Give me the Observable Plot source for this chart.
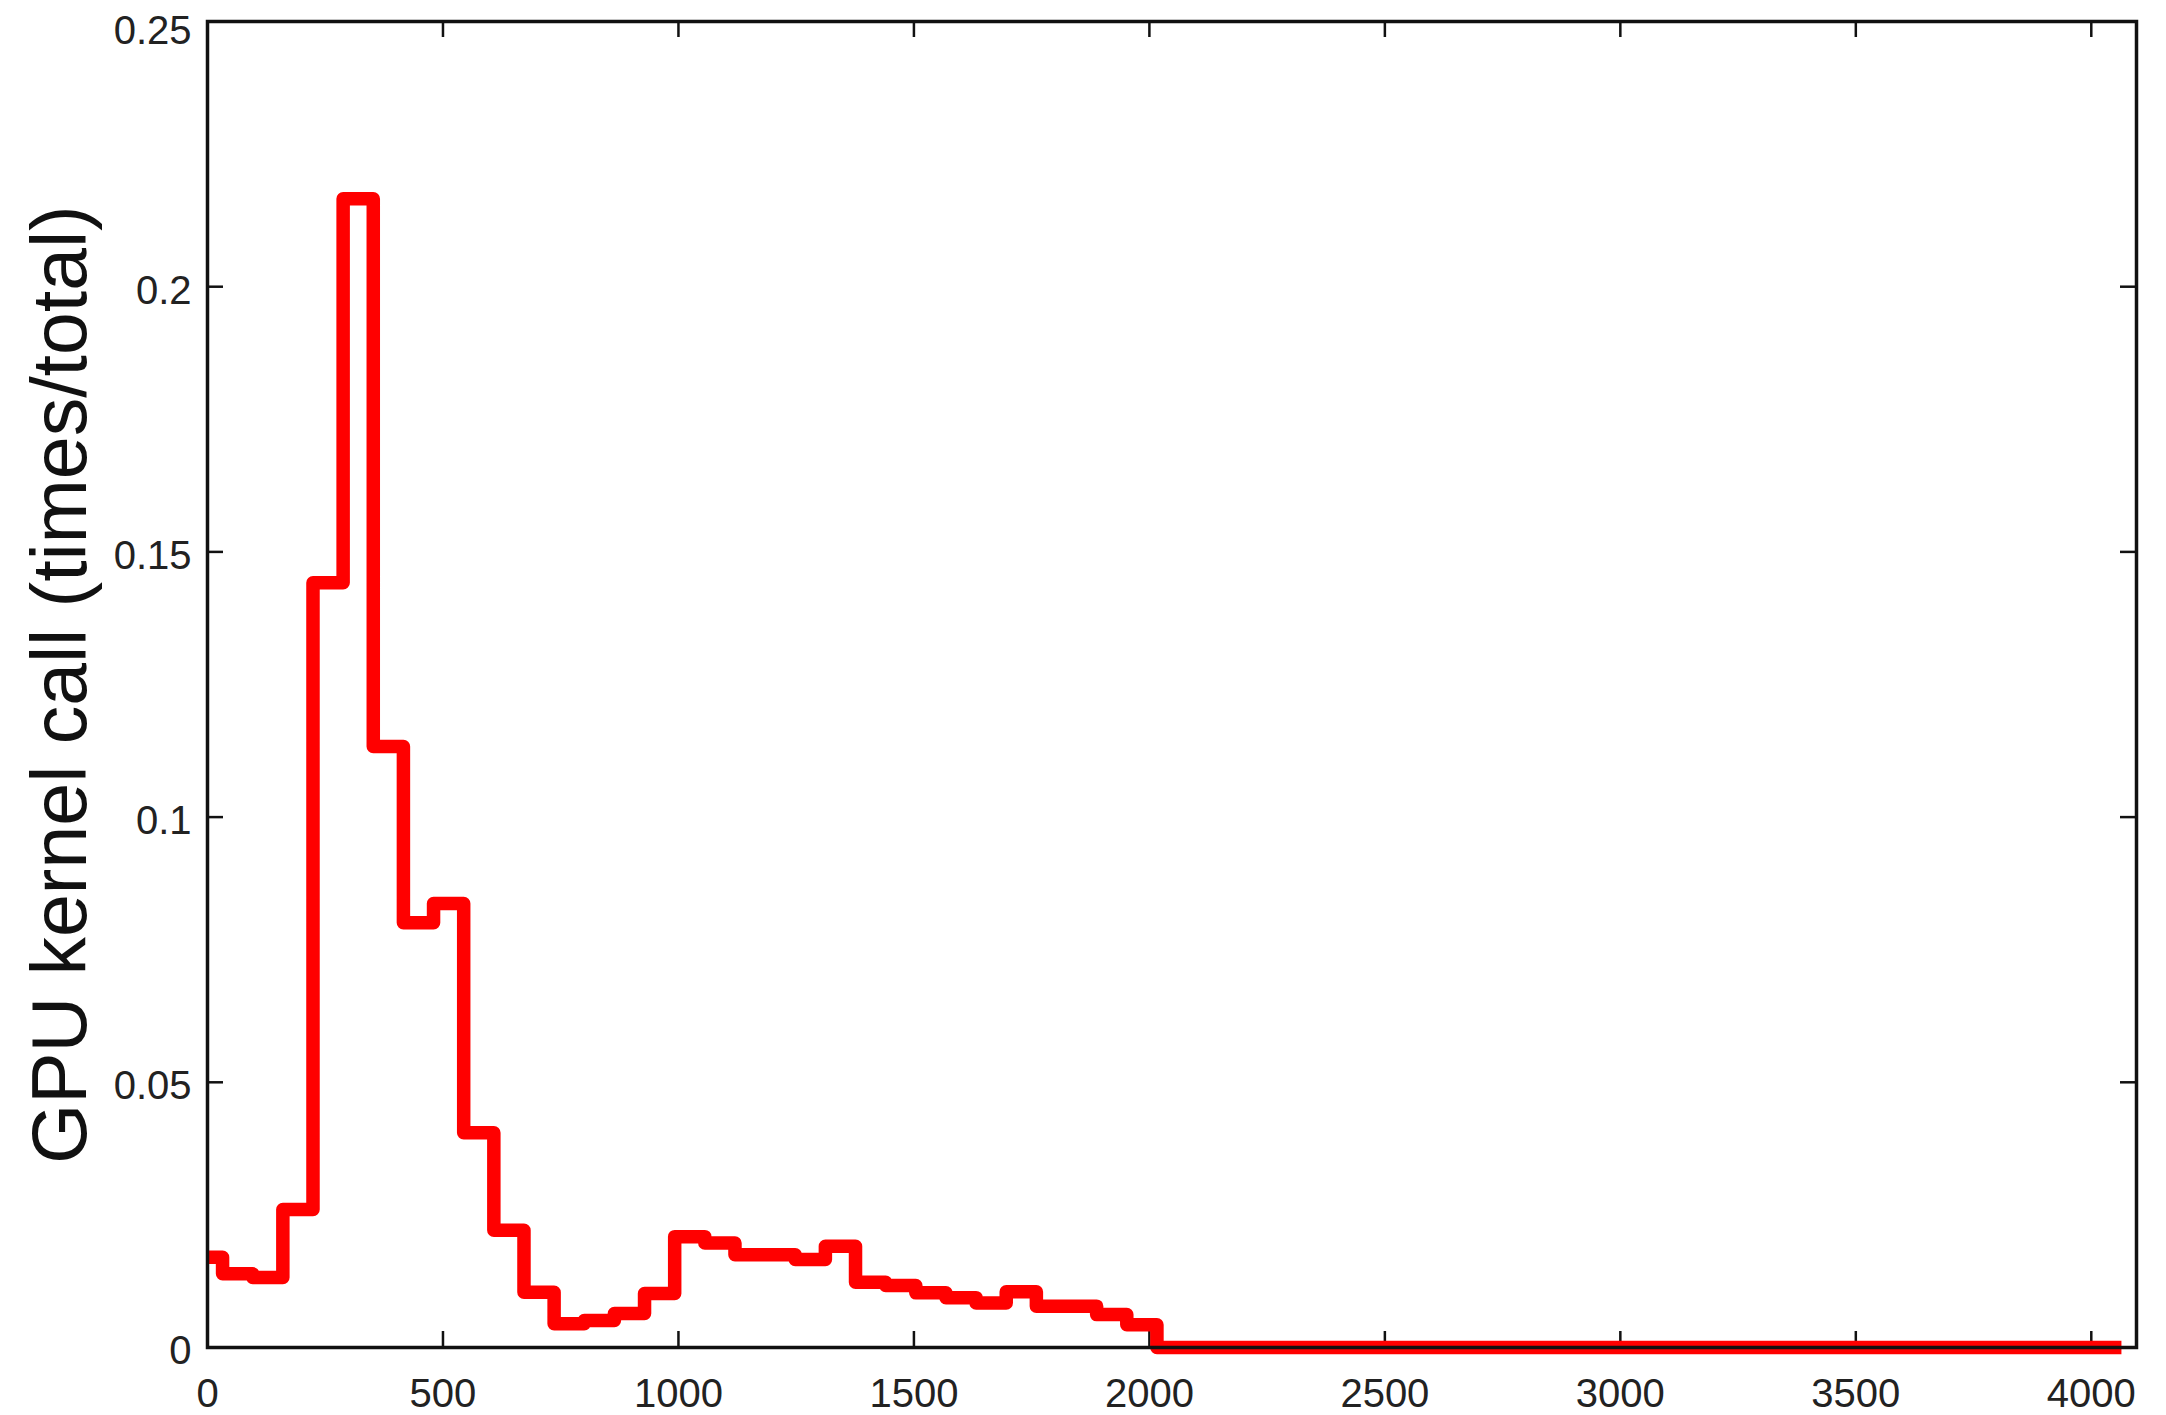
<!DOCTYPE html>
<html>
<head>
<meta charset="utf-8">
<script src="https://cdn.jsdelivr.net/npm/d3@7"></script>
<script src="https://cdn.jsdelivr.net/npm/@observablehq/plot@0.6"></script>
<style>
  html, body { margin: 0; padding: 0; background: #fff; }
  svg { display: block; }
</style>
</head>
<body>
<div id="chart"></div>
<script>
// Histogram bin centers (x) and fraction of GPU kernel calls (y)
const binCenters = [
  0, 64, 128, 192, 256, 320, 384, 448, 512, 576, 640, 704, 768, 832, 896, 960,
  1024, 1088, 1152, 1216, 1280, 1344, 1408, 1472, 1536, 1600, 1664, 1728, 1792, 1856, 1920, 1984,
  2048, 2112, 2176, 2240, 2304, 2368, 2432, 2496, 2560, 2624, 2688, 2752, 2816, 2880, 2944, 3008,
  3072, 3136, 3200, 3264, 3328, 3392, 3456, 3520, 3584, 3648, 3712, 3776, 3840, 3904, 3968, 4032
];
const callFraction = [
  0.0170, 0.0139, 0.0132, 0.0260, 0.1442, 0.2166, 0.1133, 0.0801, 0.0837, 0.0405, 0.0221, 0.0104, 0.0045, 0.0051, 0.0064, 0.0102,
  0.0209, 0.0197, 0.0175, 0.0175, 0.0166, 0.0191, 0.0123, 0.0117, 0.0103, 0.0094, 0.0084, 0.0105, 0.0078, 0.0078, 0.0062, 0.0043,
  0, 0, 0, 0, 0, 0, 0, 0, 0, 0, 0, 0, 0, 0, 0, 0,
  0, 0, 0, 0, 0, 0, 0, 0, 0, 0, 0, 0, 0, 0, 0, 0
];
const binWidth = 64;
const xDomain = [0, 4096];
const yDomain = [0, 0.25];
const xTicks = [0, 500, 1000, 1500, 2000, 2500, 3000, 3500, 4000];
const xTickLabels = ["0", "500", "1000", "1500", "2000", "2500", "3000", "3500", "4000"];
const yTicks = [0, 0.05, 0.1, 0.15, 0.2, 0.25];
const yTickLabels = ["0", "0.05", "0.1", "0.15", "0.2", "0.25"];
const yLabel = "GPU kernel call (times/total)";

// Build stair outline (edges clipped to the axis limits)
const stairs = [];
binCenters.forEach((c, i) => {
  stairs.push({x: Math.max(xDomain[0], c - binWidth / 2), y: callFraction[i]});
  stairs.push({x: Math.min(xDomain[1], c + binWidth / 2), y: callFraction[i]});
});

const W = 2166, H = 1415;
const mL = 207, mR = 30, mT = 21, mB = 68;
const innerW = W - mL - mR, innerH = H - mT - mB;
const tickLen = 16;
const font = "'Liberation Sans', Arial, Helvetica, sans-serif";
const yFmt = d => yTickLabels[yTicks.indexOf(d)];
const topTick = yTicks[yTicks.length - 1];

const chart = Plot.plot({
  width: W,
  height: H,
  marginLeft: mL,
  marginRight: mR,
  marginTop: mT,
  marginBottom: mB,
  style: {fontFamily: font, background: "#fff", color: "#111"},
  x: {domain: xDomain},
  y: {domain: yDomain},
  marks: [
    Plot.tickX(xTicks, {x: d => d, insetTop: innerH - tickLen, stroke: "#111", strokeWidth: 2.5}),
    Plot.tickX(xTicks, {x: d => d, insetBottom: innerH - tickLen, stroke: "#111", strokeWidth: 2.5}),
    Plot.tickY(yTicks, {y: d => d, insetRight: innerW - tickLen, stroke: "#111", strokeWidth: 2.5}),
    Plot.tickY(yTicks, {y: d => d, insetLeft: innerW - tickLen, stroke: "#111", strokeWidth: 2.5}),
    Plot.line(stairs, {x: "x", y: "y", stroke: "#ff0000", strokeWidth: 13.5, strokeLinejoin: "round", strokeLinecap: "butt"}),
    Plot.frame({stroke: "#111", strokeWidth: 3.5}),
    Plot.axisX({ticks: xTicks, tickSize: 0, tickPadding: 31, fontSize: 40, label: null,
      tickFormat: d => xTickLabels[xTicks.indexOf(d)], fill: "#222"}),
    Plot.axisY({ticks: yTicks.filter(t => t !== topTick), tickSize: 0, tickPadding: 16, fontSize: 40, label: null,
      tickFormat: yFmt, fill: "#222", dy: 4}),
    Plot.axisY({ticks: [topTick], tickSize: 0, tickPadding: 16, fontSize: 40, label: null,
      tickFormat: yFmt, fill: "#222", dy: 10}),
    Plot.text([yLabel], {text: d => d, frameAnchor: "left", textAnchor: "middle", rotate: -90, dx: -146, fontSize: 77, fill: "#111", fontFamily: font})
  ]
});
document.getElementById("chart").appendChild(chart);
</script>
</body>
</html>
